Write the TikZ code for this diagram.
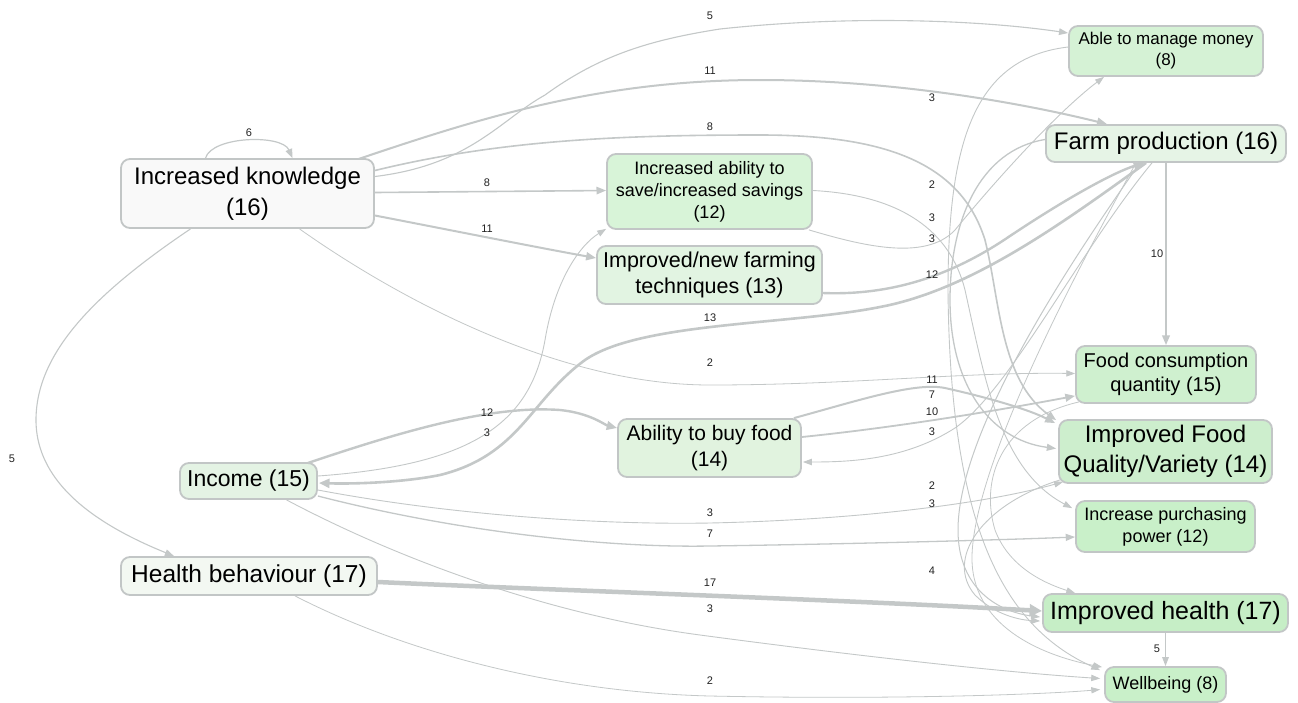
\documentclass[tikz,border=0pt]{standalone}
\usepackage{fontspec}
\setmainfont{Liberation Sans}
\usetikzlibrary{arrows.meta,calc}
\definecolor{edgegray}{HTML}{C4C8C8}
\definecolor{boxline}{HTML}{C2C6C6}
\definecolor{labelcol}{HTML}{222222}
\definecolor{cKN}{HTML}{F9F9F9}
\definecolor{cSAV}{HTML}{D8F4D8}
\definecolor{cTECH}{HTML}{E2F4E2}
\definecolor{cBUY}{HTML}{E1F3DF}
\definecolor{cINC}{HTML}{E4F3E4}
\definecolor{cHB}{HTML}{F3F8F2}
\definecolor{cMON}{HTML}{D5F2D5}
\definecolor{cFARM}{HTML}{E6F4E6}
\definecolor{cFCQ}{HTML}{CFF0CF}
\definecolor{cFQV}{HTML}{CDEECD}
\definecolor{cIPP}{HTML}{C9F0C9}
\definecolor{cIH}{HTML}{C6EEC6}
\definecolor{cWB}{HTML}{C9F0C9}
\newcommand{\fs}[2]{\fontsize{#1}{#2}\selectfont}
\begin{document}
\begin{tikzpicture}[x=1pt,y=-1pt,
  box/.style={draw=boxline,line width=1.8pt,rounded corners=9pt,align=center,inner sep=0pt,text=black},
  link/.style={draw=edgegray,line width=#1,-{Triangle[length=8pt 1,width=5pt 1.5]}},
  link/.default=1pt,
  elab/.style={font=\fs{11}{12},text=labelcol,inner sep=0pt}
]
\fill[white] (0,0) rectangle (1298,702);
\useasboundingbox (0,0) rectangle (1298,702);

% ---- nodes ----
\node[box,fill=cKN,minimum width=253pt,minimum height=69pt,font=\fs{24}{31}] (kn) at (247.5,193.5) {Increased knowledge\\(16)};
\node[box,fill=cINC,minimum width=137pt,minimum height=36pt,font=\fs{23}{28}] (inc) at (248.5,481) {Income (15)};
\node[box,fill=cHB,minimum width=256pt,minimum height=38pt,font=\fs{24.5}{30}] (hb) at (249,576) {Health behaviour (17)};
\node[box,fill=cSAV,minimum width=205pt,minimum height=75pt,font=\fs{18}{22}] (sav) at (709.5,191.5) {Increased ability to\\save/increased savings\\(12)};
\node[box,fill=cTECH,minimum width=225pt,minimum height=58pt,font=\fs{21.5}{26}] (tech) at (709.5,275) {Improved/new farming\\techniques (13)};
\node[box,fill=cBUY,minimum width=183pt,minimum height=58pt,font=\fs{21}{26}] (buy) at (709.5,448) {Ability to buy food\\(14)};
\node[box,fill=cMON,minimum width=194pt,minimum height=50pt,font=\fs{17}{21}] (mon) at (1166,51) {Able to manage money\\(8)};
\node[box,fill=cFARM,minimum width=240pt,minimum height=37pt,font=\fs{24}{29}] (farm) at (1166,143.5) {Farm production (16)};
\node[box,fill=cFCQ,minimum width=180pt,minimum height=57pt,font=\fs{20}{24}] (fcq) at (1166,374.5) {Food consumption\\quantity (15)};
\node[box,fill=cFQV,minimum width=213pt,minimum height=63pt,font=\fs{24}{30}] (fqv) at (1165.5,451.5) {Improved Food\\Quality/Variety (14)};
\node[box,fill=cIPP,minimum width=179pt,minimum height=51pt,font=\fs{18}{22}] (ipp) at (1165.5,526.5) {Increase purchasing\\power (12)};
\node[box,fill=cIH,minimum width=245pt,minimum height=38pt,font=\fs{25}{30}] (ih) at (1165.5,613) {Improved health (17)};
\node[box,fill=cWB,minimum width=121pt,minimum height=35pt,font=\fs{18}{22}] (wb) at (1165.5,684.5) {Wellbeing (8)};

% ---- connectors ----
% Increased knowledge
\draw[link=1.2pt] ($(kn.north)+(-42,0)$) .. controls (212,136) and (282,134) .. ($(kn.north)+(45,0)$);
\draw[link=1.1pt] ($(kn.east)+(0,-17)$) .. controls (470,165) and (500,120) .. (545,95)
   .. controls (600,55) and (650,40) .. (720,29) .. controls (850,15) and (980,20) .. ($(mon.west)+(0,-18)$);
\draw[link=2pt] ($(kn.center)+(111,-34.5)$) .. controls (480,118) and (600,80) .. (760,80)
   .. controls (900,80) and (1030,105) .. ($(farm.north)+(-59,0)$);
\draw[link=1.6pt] ($(kn.east)+(0,-23)$) .. controls (500,140) and (620,135) .. (760,135)
   .. controls (880,135) and (960,160) .. (985,240) .. controls (1000,300) and (1000,380) .. ($(fqv.north west)+(-2,1)$);
\draw[link=1.6pt] ($(kn.east)+(0,-1)$) -- ($(sav.west)+(0,-1)$);
\draw[link=2pt] ($(kn.east)+(0,22)$) .. controls (450,230) and (540,248) .. ($(tech.west)+(0,-17)$);
\draw[link=0.8pt] ($(kn.south)+(52,0)$) .. controls (400,300) and (560,385) .. (710,385)
   .. controls (850,385) and (960,372) .. ($(fcq.west)+(0,-1)$);
\draw[link=1.1pt] ($(kn.south)+(-57,0)$) .. controls (100,290) and (36,350) .. (36,420)
   .. controls (36,490) and (110,530) .. ($(hb.north)+(-75,0)$);

% Income
\draw[link=2.6pt] ($(farm.south)+(-20,0)$) .. controls (1060,225) and (970,290) .. (880,307)
   .. controls (790,325) and (640,322) .. (585,360) .. controls (530,400) and (520,455) .. (440,475)
   .. controls (400,483) and (350,484) .. ($(inc.east)+(1,2)$);
\draw[link=2.4pt] ($(inc.east)+(-10,-18)$) .. controls (400,432) and (490,405) .. (560,410)
   .. controls (590,413) and (605,425) .. ($(buy.west)+(0,-20)$);
\draw[link=0.9pt] ($(inc.east)+(0,-5)$) .. controls (470,465) and (530,425) .. (545,340)
   .. controls (555,280) and (580,245) .. ($(sav.south west)+(0,-1)$);
\draw[link=0.9pt] ($(inc.east)+(0,9)$) .. controls (450,515) and (600,525) .. (710,523)
   .. controls (850,520) and (980,505) .. ($(fqv.south west)+(5,-2)$);
\draw[link=1.3pt] ($(inc.east)+(0,15)$) .. controls (450,530) and (600,548) .. (710,546)
   .. controls (850,544) and (1000,540) .. ($(ipp.west)+(0,10.5)$);
\draw[link=0.9pt] ($(inc.south)+(38,0)$) .. controls (400,560) and (550,615) .. (700,635)
   .. controls (850,655) and (1000,672) .. ($(wb.west)+(-4,-6)$);

% Health behaviour
\draw[link=4.5pt] ($(hb.east)+(0,6)$) .. controls (550,590) and (850,600) .. ($(ih.west)+(0,-2)$);
\draw[link=0.8pt] ($(hb.south)+(46,0)$) .. controls (400,650) and (550,692) .. (710,696)
   .. controls (900,700) and (1050,694) .. ($(wb.west)+(-4,5)$);

% middle column
\draw[link=2.4pt] ($(tech.east)+(0,18)$) .. controls (900,296) and (960,270) .. (1010,236)
   .. controls (1070,196) and (1115,172) .. ($(farm.south)+(-22,0)$);
\draw[link=0.9pt] ($(sav.south east)+(-4,0)$) .. controls (860,245) and (925,262) .. (955,230)
   .. controls (1000,175) and (1060,110) .. ($(mon.south)+(-62,0)$);
\draw[link=0.9pt] ($(sav.east)+(0,-1)$) .. controls (900,195) and (950,230) .. (965,290)
   .. controls (985,380) and (1000,470) .. ($(ipp.north west)+(-3,8)$);
\draw[link=2pt] ($(buy.north east)+(-8,0)$) .. controls (860,400) and (915,382) .. (945,388)
   .. controls (990,398) and (1030,410) .. ($(fqv.north west)+(-3,4)$);
\draw[link=1.8pt] ($(buy.east)+(0,-11)$) .. controls (900,427) and (1000,410) .. ($(fcq.south west)+(0,-8)$);
\draw[link=0.9pt] ($(farm.south)+(-14,0)$) .. controls (1080,250) and (1010,390) .. (955,428)
   .. controls (905,460) and (850,462) .. ($(buy.east)+(1,14)$);

% right column
\draw[link=1.3pt] ($(farm.west)+(0,-4)$) .. controls (980,150) and (950,220) .. (950,300)
   .. controls (950,385) and (990,440) .. ($(fqv.west)+(-2,-3)$);
\draw[link=0.9pt] ($(mon.west)+(0,-4)$) .. controls (975,58) and (948,140) .. (948,290)
   .. controls (950,520) and (1000,625) .. ($(wb.north west)+(-4,4)$);
\draw[link=0.8pt] ($(farm.south)+(-30,0)$) .. controls (1060,300) and (975,470) .. (972,555)
   .. controls (970,625) and (1040,655) .. ($(wb.north west)+(-2,1)$);
\draw[link=1pt] ($(farm.south)+(-26,0)$) .. controls (1050,290) and (958,440) .. (958,530)
   .. controls (958,590) and (1000,612) .. ($(ih.west)+(-2,4)$);
\draw[link=0.9pt] ($(fqv.south west)+(2,-4)$) .. controls (980,505) and (945,560) .. (975,595)
   .. controls (995,615) and (1020,620) .. ($(ih.west)+(-2,8)$);
\draw[link=0.8pt] ($(fcq.south west)+(4,-2)$) .. controls (1000,420) and (980,480) .. (995,530)
   .. controls (1010,570) and (1050,585) .. ($(ih.north west)+(33,0)$);
\draw[link=1.8pt] (farm.south) -- (fcq.north);
\draw[link=1.1pt] (ih.south) -- (wb.north);

% ---- edge labels ----
\node[elab] (l01) at (249,133) {6};
\node[elab] (l02) at (710,16) {5};
\node[elab] (l03) at (710,71) {11};
\node[elab] (l04) at (710,127) {8};
\node[elab] (l05) at (487,183) {8};
\node[elab] (l06) at (487,229) {11};
\node[elab] (l07) at (710,363) {2};
\node[elab] (l08) at (12,459) {5};
\node[elab] (l09) at (710,318) {13};
\node[elab] (l10) at (487,413) {12};
\node[elab] (l11) at (487,433) {3};
\node[elab] (l12) at (710,513) {3};
\node[elab] (l13) at (710,534) {7};
\node[elab] (l14) at (710,609) {3};
\node[elab] (l15) at (710,583) {17};
\node[elab] (l16) at (710,681) {2};
\node[elab] (l17) at (932,275) {12};
\node[elab] (l18) at (932,239) {3};
\node[elab] (l19) at (932,218) {3};
\node[elab] (l20) at (932,380) {11};
\node[elab] (l21) at (932,412) {10};
\node[elab] (l22) at (932,432) {3};
\node[elab] (l23) at (932,395) {7};
\node[elab] (l24) at (932,185) {2};
\node[elab] (l25) at (932,571) {4};
\node[elab] (l26) at (932,504) {3};
\node[elab] (l27) at (932,486) {2};
\node[elab] (l28) at (932,98) {3};
\node[elab] (l29) at (1157,254) {10};
\node[elab] (l30) at (1157,649) {5};
\end{tikzpicture}
\end{document}
